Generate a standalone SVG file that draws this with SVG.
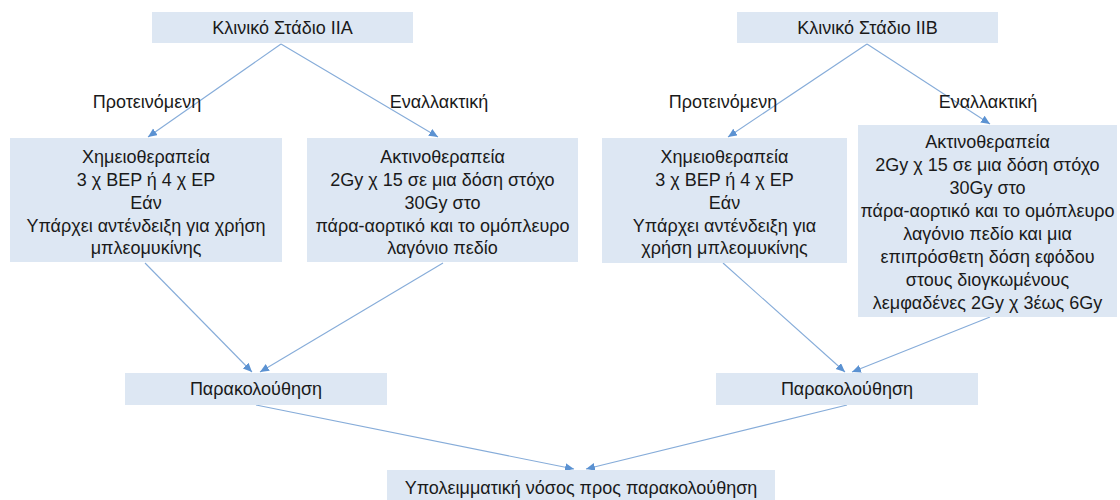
<svg xmlns="http://www.w3.org/2000/svg" width="1120" height="500" viewBox="0 0 1120 500">
<defs>
<style>
.box{fill:#dde7f3;stroke:none}
.t{font-family:"Liberation Sans",Arial,sans-serif;font-size:18px;fill:#1a1a1a;text-anchor:middle}
.c{fill:none;stroke:#86acd9;stroke-width:1.1}
</style>
<marker id="ah" markerUnits="userSpaceOnUse" markerWidth="10" markerHeight="10" refX="9" refY="4" orient="auto">
<path d="M0,0 L9,4 L0,8 Z" fill="#5b92d2"/>
</marker>
</defs>
<rect width="1120" height="500" fill="#ffffff"/>
<g id="connectors">
<line class="c" x1="281" y1="44" x2="148" y2="137" marker-end="url(#ah)"/>
<line class="c" x1="281" y1="44" x2="438" y2="137" marker-end="url(#ah)"/>
<line class="c" x1="867" y1="44" x2="728" y2="137" marker-end="url(#ah)"/>
<line class="c" x1="867" y1="44" x2="990" y2="124" marker-end="url(#ah)"/>
<line class="c" x1="145" y1="263" x2="252" y2="372" marker-end="url(#ah)"/>
<line class="c" x1="443" y1="263" x2="260" y2="372" marker-end="url(#ah)"/>
<line class="c" x1="723" y1="263" x2="845" y2="372" marker-end="url(#ah)"/>
<line class="c" x1="990" y1="317" x2="852" y2="372" marker-end="url(#ah)"/>
<line class="c" x1="256" y1="405" x2="574" y2="469" marker-end="url(#ah)"/>
<line class="c" x1="847" y1="405" x2="586" y2="469" marker-end="url(#ah)"/>
</g>
<g id="labels">
<text class="t" x="147" y="108">Προτεινόμενη</text>
<text class="t" x="439" y="108">Εναλλακτική</text>
<text class="t" x="723" y="108">Προτεινόμενη</text>
<text class="t" x="988" y="108">Εναλλακτική</text>
</g>
<g id="stageIIA">
<rect class="box" x="152" y="12" width="261" height="31"/>
<text class="t" x="282.5" y="34">Κλινικό Στάδιο ΙΙΑ</text>
</g>
<g id="stageIIB">
<rect class="box" x="737" y="12" width="261" height="31"/>
<text class="t" x="867.5" y="34">Κλινικό Στάδιο ΙΙΒ</text>
</g>
<g id="chemoIIA">
<rect class="box" x="10" y="138" width="272" height="124"/>
<text class="t" x="146" y="163">Χημειοθεραπεία</text>
<text class="t" x="146" y="186">3 χ ΒΕΡ ή 4 χ ΕΡ</text>
<text class="t" x="146" y="209">Εάν</text>
<text class="t" x="146" y="232">Υπάρχει αντένδειξη για χρήση</text>
<text class="t" x="146" y="254">μπλεομυκίνης</text>
</g>
<g id="radioIIA">
<rect class="box" x="307" y="138" width="271" height="124"/>
<text class="t" x="442.5" y="163">Ακτινοθεραπεία</text>
<text class="t" x="442.5" y="186">2Gy χ 15 σε μια δόση στόχο</text>
<text class="t" x="442.5" y="209">30Gy στο</text>
<text class="t" x="442.5" y="232">πάρα-αορτικό και το ομόπλευρο</text>
<text class="t" x="442.5" y="254">λαγόνιο πεδίο</text>
</g>
<g id="chemoIIB">
<rect class="box" x="602" y="138" width="245" height="125"/>
<text class="t" x="724.5" y="163">Χημειοθεραπεία</text>
<text class="t" x="724.5" y="186">3 χ ΒΕΡ ή 4 χ ΕΡ</text>
<text class="t" x="724.5" y="209">Εάν</text>
<text class="t" x="724.5" y="232">Υπάρχει αντένδειξη για</text>
<text class="t" x="724.5" y="254">χρήση μπλεομυκίνης</text>
</g>
<g id="radioIIB">
<rect class="box" x="858" y="125" width="259" height="192"/>
<text class="t" x="987.5" y="148">Ακτινοθεραπεία</text>
<text class="t" x="987.5" y="171">2Gy χ 15 σε μια δόση στόχο</text>
<text class="t" x="987.5" y="194">30Gy στο</text>
<text class="t" x="987.5" y="217">πάρα-αορτικό και το ομόπλευρο</text>
<text class="t" x="987.5" y="240">λαγόνιο πεδίο και μια</text>
<text class="t" x="987.5" y="263">επιπρόσθετη δόση εφόδου</text>
<text class="t" x="987.5" y="286">στους διογκωμένους</text>
<text class="t" x="987.5" y="309">λεμφαδένες 2Gy χ 3έως 6Gy</text>
</g>
<g id="followIIA">
<rect class="box" x="125" y="373" width="262" height="32"/>
<text class="t" x="256" y="395">Παρακολούθηση</text>
</g>
<g id="followIIB">
<rect class="box" x="716" y="373" width="262" height="32"/>
<text class="t" x="847" y="395">Παρακολούθηση</text>
</g>
<g id="residual">
<rect class="box" x="387" y="470" width="388" height="32"/>
<text class="t" x="581" y="494">Υπολειμματική νόσος προς παρακολούθηση</text>
</g>
</svg>
